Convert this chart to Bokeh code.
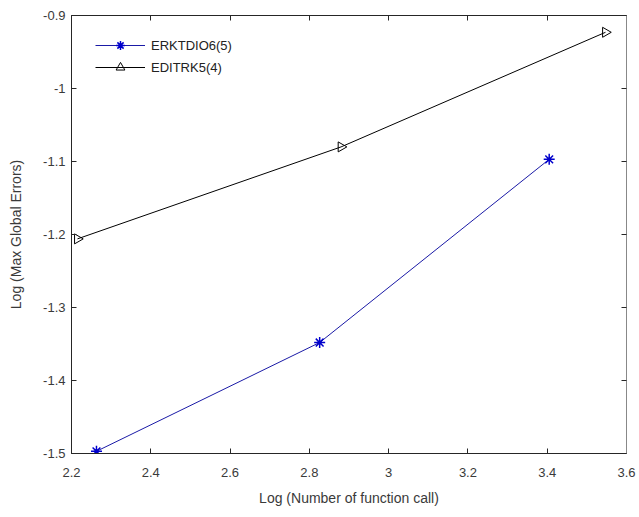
import numpy as np
from bokeh.plotting import figure
from bokeh.models import Range1d, LinearAxis, FixedTicker, Legend, LegendItem
from bokeh.embed import file_html
from bokeh.resources import INLINE

# data
erk_x = [2.263, 2.826, 3.405]
erk_y = [-1.497, -1.348, -1.097]
edi_x = [2.215, 2.880, 3.547]
edi_y = [-1.206, -1.080, -0.923]

x_ticks = [2.2, 2.4, 2.6, 2.8, 3.0, 3.2, 3.4, 3.6]
x_tick_labels = ["2.2", "2.4", "2.6", "2.8", "3", "3.2", "3.4", "3.6"]
y_ticks = [-1.5, -1.4, -1.3, -1.2, -1.1, -1.0, -0.9]
y_tick_labels = ["-1.5", "-1.4", "-1.3", "-1.2", "-1.1", "-1", "-0.9"]

FONT = "Liberation Sans"
AX = "#262626"
TXT = "#3a3a3a"

p = figure(width=639, height=517, output_backend="svg", toolbar_location=None,
           x_range=Range1d(2.2, 3.6), y_range=Range1d(-1.5, -0.9),
           min_border_left=71, min_border_right=13, min_border_top=15, min_border_bottom=64)
p.grid.visible = False
p.outline_line_color = "#666666"
p.background_fill_color = "white"
p.border_fill_color = "white"

def style(ax, ticks, labels, show_labels=True):
    ax.ticker = FixedTicker(ticks=ticks)
    if show_labels:
        ax.major_label_overrides = {t: l for t, l in zip(ticks, labels)}
    else:
        ax.major_label_overrides = {t: "" for t in ticks}
    ax.major_tick_in = 5
    ax.major_tick_out = 0
    ax.minor_tick_in = 0
    ax.minor_tick_out = 0
    ax.axis_line_color = AX
    ax.major_tick_line_color = AX
    ax.major_label_text_font = FONT
    ax.major_label_text_font_size = "13px"
    ax.major_label_text_color = TXT
    ax.axis_label_text_font = FONT
    ax.axis_label_text_font_size = "14px"
    ax.axis_label_text_font_style = "normal"
    ax.axis_label_text_color = TXT

xa = p.xaxis[0]
ya = p.yaxis[0]
style(xa, x_ticks, x_tick_labels)
style(ya, y_ticks, y_tick_labels)
xa.axis_label = "Log (Number of function call)"
ya.axis_label = "Log (Max Global Errors)"
xa.major_label_standoff = 14
xa.axis_label_standoff = 10
ya.major_label_standoff = 6
ya.axis_label_standoff = 16

top = LinearAxis()
style(top, x_ticks, x_tick_labels, show_labels=False)
top.major_label_standoff = 0
p.add_layout(top, "above")
right = LinearAxis()
style(right, y_ticks, y_tick_labels, show_labels=False)
right.major_label_standoff = 0
right.axis_line_color = "#888888"
p.add_layout(right, "right")

BLUE = "#1a1aa6"
l1 = p.line(erk_x, erk_y, line_color=BLUE, line_width=1)
m1 = p.scatter(erk_x, erk_y, marker="asterisk", size=11, line_color="#0000cc", line_width=1.5)
l2 = p.line(edi_x, edi_y, line_color="black", line_width=1)
m2 = p.scatter(edi_x, edi_y, marker="triangle", angle=-np.pi / 2, size=10,
               line_color="black", fill_color=None, line_width=1)

leg = Legend(items=[LegendItem(label="ERKTDIO6(5)", renderers=[l1, m1]),
                    LegendItem(label="EDITRK5(4)", renderers=[l2, m2])],
             location=(24, 375), margin=0, padding=0,
             glyph_width=50, glyph_height=22, label_height=22, spacing=0,
             label_standoff=6, label_text_font=FONT, label_text_font_size="13px",
             label_text_color="#222222", border_line_alpha=0,
             background_fill_alpha=0)
p.add_layout(leg, "center")

open("out.html", "w").write(file_html(p, INLINE))
